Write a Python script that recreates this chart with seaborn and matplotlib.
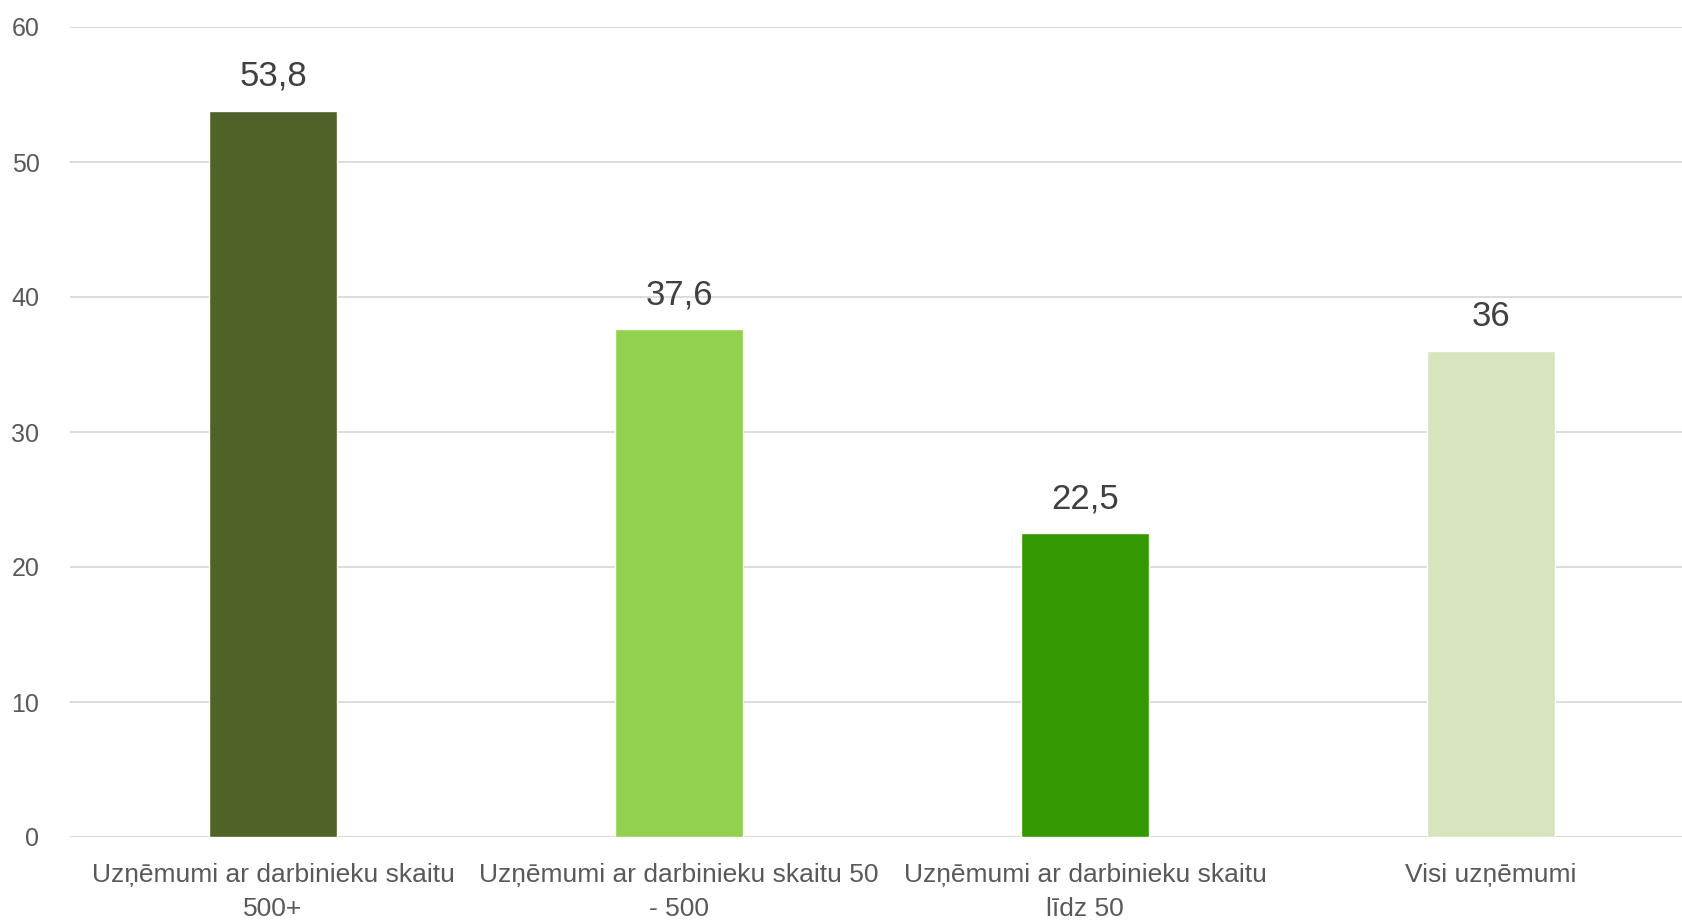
import pandas as pd
import seaborn as sns
import matplotlib.pyplot as plt
from matplotlib import font_manager

categories = ['Uzņēmumi ar darbinieku skaitu\n500+',
              'Uzņēmumi ar darbinieku skaitu 50\n- 500',
              'Uzņēmumi ar darbinieku skaitu\nlīdz 50',
              'Visi uzņēmumi']
values = [53.8, 37.6, 22.5, 36]
colors = ['#4F6228', '#92D050', '#339900', '#D7E4BD']

df = pd.DataFrame({'cat': categories, 'val': values})

sns.set_style('white')
names = {f.name for f in font_manager.fontManager.ttflist}
fam = 'Liberation Sans Narrow' if 'Liberation Sans Narrow' in names else 'Liberation Sans'
plt.rcParams['font.family'] = [fam, 'DejaVu Sans']

fig = plt.figure(figsize=(16.82, 9.24), dpi=100)
ax = fig.add_axes([70 / 1682, 87 / 924, 1612 / 1682, 810 / 924])

sns.barplot(data=df, x='cat', y='val', hue='cat', palette=colors,
            width=0.315, legend=False, ax=ax, saturation=1)

labels = [f'{v:g}'.replace('.', ',') for v in values]
for c, lab in zip(ax.containers, labels):
    ax.bar_label(c, labels=[lab], padding=13, fontsize=25, color='#404040')

ax.set_ylim(0, 60)
ax.set_xlim(-0.5, 3.47)
ax.set_yticks(range(0, 61, 10))
ax.yaxis.grid(True, color='#D9D9D9', linewidth=1.3)
ax.set_axisbelow(True)
for s in ax.spines.values():
    s.set_visible(False)
ax.axhline(0, color='#D9D9D9', linewidth=1.5, zorder=0)
ax.tick_params(axis='y', length=0, pad=22, labelsize=18, labelcolor='#595959')
ax.tick_params(axis='x', length=0, pad=19, labelsize=19, labelcolor='#595959')
for t in ax.get_xticklabels():
    t.set_linespacing(1.5)
ax.set_xlabel('')
ax.set_ylabel('')

fig.savefig('out.png', dpi=100)
